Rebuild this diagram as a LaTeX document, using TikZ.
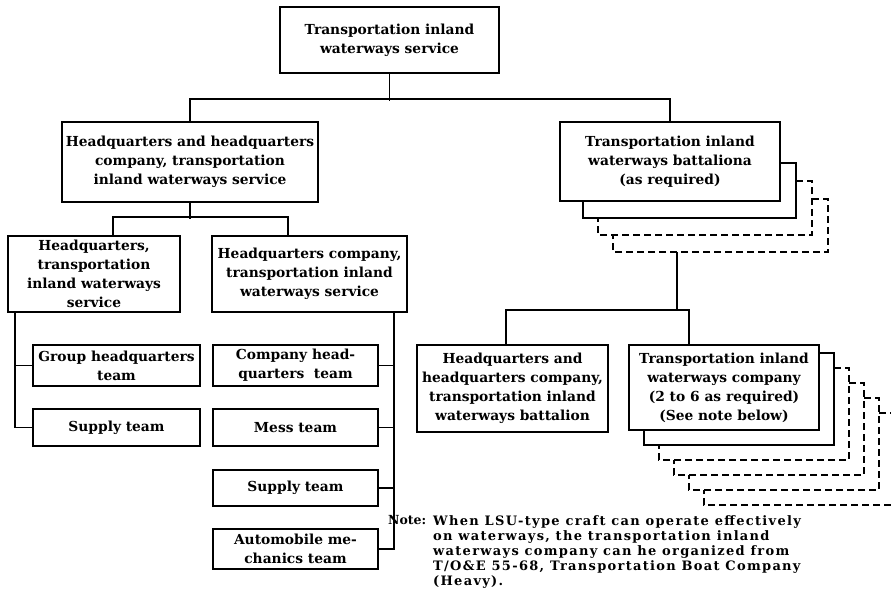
\documentclass[tikz,border=0pt]{standalone}
\usepackage{fontspec}
\setmainfont{DejaVu Serif}
\usetikzlibrary{positioning, calc}

\begin{document}
\begin{tikzpicture}[x=1pt, y=-1pt,
  unit/.style={draw, line width=1.6pt, align=center, inner sep=0pt,
    font=\bfseries\fontsize{13.8}{19}\selectfont},
  link/.style={line width=1.6pt},
  ghost/.style={line width=1.6pt},
  ghostdash/.style={line width=1.6pt, dash pattern=on 7pt off 4pt},
  notetext/.style={inner sep=0pt, font=\bfseries\fontsize{13}{15}\selectfont\addfontfeatures{LetterSpace=10}}]

\fill[white] (0,0) rectangle (891,602);
\useasboundingbox (0,0) rectangle (891,602);

% top level
\node[unit, minimum width=219, minimum height=66] (tiws) at (389.5,40) {Transportation inland\\ waterways service};
\node[unit, minimum width=256, minimum height=80] (hqhq) at (190,162) {Headquarters and headquarters\\ company, transportation\\ inland waterways service};
\node[unit, minimum width=220, minimum height=79] (bn) at (670,161.5) {Transportation inland\\ waterways battaliona\\ (as required)};

\draw[link] (tiws.south) -- ++(0,27);
\draw[link] (hqhq.north) -- ++(0,-22) -| (bn.north);

% battalion stack
\foreach \i/\sty in {1/ghost, 2/ghostdash, 3/ghostdash}
  \draw[\sty] ({780+16*(\i-1)},{145+18*\i}) -- ({780+16*\i},{145+18*\i})
    -- ({780+16*\i},{201+17*\i}) -- ({568+15*\i},{201+17*\i}) -- ({568+15*\i},{201+17*(\i-1)});
\coordinate (bnstack) at (677,252);

% service headquarters
\node[unit, minimum width=172, minimum height=76] (hqsvc) at (94,274) {Headquarters,\\ transportation\\ inland waterways\\ service};
\node[unit, minimum width=195, minimum height=76] (hqco) at (309.5,274) {Headquarters company,\\ transportation inland\\ waterways service};

\draw[link] (hqhq.south) -- ++(0,16);
\draw[link] ([xshift=19pt]hqsvc.north) -- ++(0,-18) -| ([xshift=-21.5pt]hqco.north);

% teams
\node[unit, minimum width=167, minimum height=41] (grp) at (116.5,365.5) {Group headquarters\\ team};
\node[unit, minimum width=167, minimum height=37] (sup1) at (116.5,427.5) {Supply team};
\node[unit, minimum width=165, minimum height=41] (cohq) at (295.5,365.5) {Company head-\\ quarters\ \ team};
\node[unit, minimum width=165, minimum height=37] (mess) at (295.5,427.5) {Mess team};
\node[unit, minimum width=165, minimum height=36] (sup2) at (295.5,488) {Supply team};
\node[unit, minimum width=165, minimum height=40] (auto) at (295.5,549) {Automobile me-\\ chanics team};

\draw[link] ([xshift=8pt]hqsvc.south west) |- (sup1.west);
\draw[link] (grp.west) -- ++(-17,0);
\draw[link] ([xshift=-14pt]hqco.south east) |- (auto.east);
\draw[link] (cohq.east) -- ++(15,0);
\draw[link] (mess.east) -- ++(15,0);
\draw[link] (sup2.east) -- ++(15,0);

% battalion level
\node[unit, minimum width=191, minimum height=87] (bnhq) at (512.5,388.5) {Headquarters and\\ headquarters company,\\ transportation inland\\ waterways battalion};
\node[unit, minimum width=190, minimum height=85] (co) at (724,387.5) {Transportation inland\\ waterways company\\ (2 to 6 as required)\\ (See note below)};

\draw[link] (bnstack) -- ++(0,59);
\draw[link] ([xshift=-6.5pt]bnhq.north) -- ++(0,-34) -| ([xshift=-35pt]co.north);

% company stack
\foreach \i/\sty in {1/ghost, 2/ghostdash, 3/ghostdash, 4/ghostdash, 5/ghostdash}
  \draw[\sty] ({819+15*(\i-1)},{338+15*\i}) -- ({819+15*\i},{338+15*\i})
    -- ({819+15*\i},{430+15*\i}) -- ({629+15*\i},{430+15*\i}) -- ({629+15*\i},{430+15*(\i-1)});

% note
\node[inner sep=0pt, anchor=north west, font=\bfseries\fontsize{12.5}{15}\selectfont] (notehead) at (388,515) {Note:};
\node[notetext, anchor=north west, align=left] (notebody) at (433,515)
  {When LSU-type craft can operate effectively\\
   on waterways, the transportation inland\\
   waterways company can he organized from\\
   T/O\&E 55-68, Transportation Boat Company\\
   (Heavy).};

\end{tikzpicture}
\end{document}
